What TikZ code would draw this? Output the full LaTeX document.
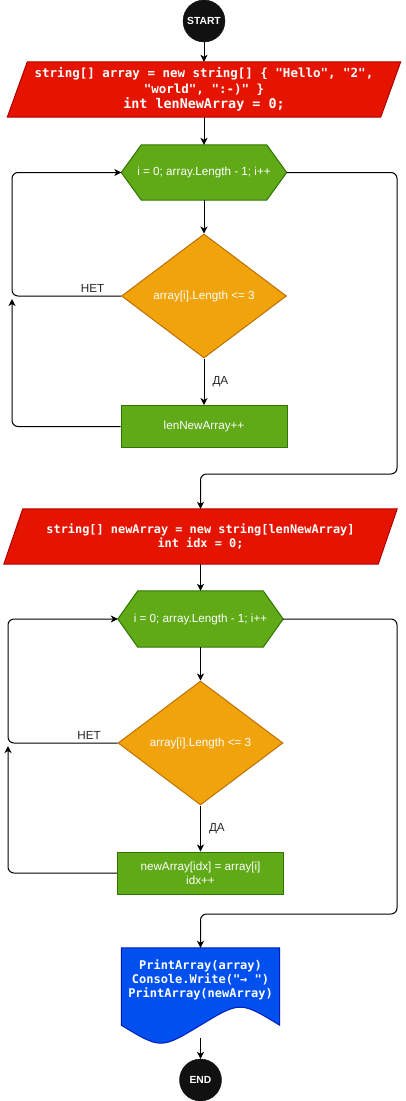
\documentclass[tikz,border=0pt]{standalone}
\usepackage{fontspec}
\setmainfont{Liberation Sans}
\newfontfamily\codefont{DejaVu Sans Mono}
\usetikzlibrary{shapes.geometric,arrows.meta,calc,backgrounds}

\definecolor{redfill}{HTML}{E51400}
\definecolor{redline}{HTML}{B20000}
\definecolor{greenfill}{HTML}{60A917}
\definecolor{greenline}{HTML}{2D7600}
\definecolor{orangefill}{HTML}{F0A30A}
\definecolor{orangeline}{HTML}{BD7000}
\definecolor{bluefill}{HTML}{0050EF}
\definecolor{blueline}{HTML}{001DBC}
\definecolor{termfill}{HTML}{111111}

\tikzset{
  terminal/.style={circle, fill=termfill, draw=termfill, minimum size=42, inner sep=0,
    text=white, font=\bfseries\fontsize{10.3}{12}\selectfont},
  iobox/.style={rectangle, minimum width=393, minimum height=55, inner sep=0,
    text=white, align=center, font=\codefont\bfseries\fontsize{12.5}{15.5}\selectfont},
  loophead/.style={rectangle, minimum width=165, minimum height=55, inner sep=0,
    text=white, font=\fontsize{11.7}{14}\selectfont},
  decision/.style={diamond, draw=orangeline, fill=orangefill, line width=1,
    minimum width=165, minimum height=124, inner sep=0,
    text=white, font=\fontsize{11.7}{14}\selectfont},
  action/.style={rectangle, draw=greenline, fill=greenfill, line width=1,
    minimum width=166, minimum height=42, inner sep=0,
    text=white, align=center, font=\fontsize{11.7}{14}\selectfont},
  docbox/.style={rectangle, minimum width=158, minimum height=64, inner sep=0,
    text=white, align=center, font=\codefont\bfseries\fontsize{12}{14}\selectfont},
  hexfill/.style={draw=greenline, fill=greenfill, line width=1},
  parafill/.style={draw=redline, fill=redfill, line width=1},
  flow/.style={-{Stealth[length=7pt,width=7pt,inset=2pt]}, line width=1, black},
  loopline/.style={flow, rounded corners=6},
  branch/.style={font=\fontsize{11.7}{14}\selectfont, text=black!85, inner sep=2pt}
}

\begin{document}
\begin{tikzpicture}[x=1pt,y=-1pt]
\useasboundingbox (0,0) rectangle (405,1101);

% ---- first part: count the short strings ----
\node[terminal] (start) at (204,21) {START};
\node[iobox] (p1) at (204,89.5) {string[] array = new string[] \{ "Hello", "2",\\
  "world", ":-)" \}\\
  {\fontsize{13.4}{15.5}\selectfont int lenNewArray = 0;}};
\node[loophead] (h1) at (204,172.5) {i = 0; array.Length - 1; i++};
\node[decision] (d1) at (204,296) {array[i].Length <= 3};
\node[action] (r1) at (204,426.5) {lenNewArray++};
\coordinate (j1) at (12,299);
\coordinate (c1) at (12,172.5);
\coordinate (e1) at (397,474);

% ---- second part: copy the short strings ----
\node[iobox, font=\codefont\bfseries\fontsize{11.9}{14.5}\selectfont] (p2) at (200.5,536.5)
  {string[] newArray = new string[lenNewArray]\\ int idx = 0;};
\node[loophead, minimum height=56] (h2) at (200.5,619) {i = 0; array.Length - 1; i++};
\node[decision] (d2) at (200.5,743) {array[i].Length <= 3};
\node[action] (r2) at (200.5,873) {newArray[idx] = array[i]\\ idx++};
\coordinate (j2) at (8,746);
\coordinate (c2) at (8,619);
\coordinate (e2) at (397,914);

% ---- output and end ----
\node[docbox] (doc) at (200.5,980) {PrintArray(array)\\ Console.Write("→ ")\\ PrintArray(newArray)};
\coordinate (docb) at ($(doc.south)+(0,26)$);
\node[terminal] (end) at (200.5,1080) {END};

% ---- shapes drawn behind the texts ----
\begin{scope}[on background layer]
  \filldraw[parafill] ($(p1.north west)+(20,0)$) -- (p1.north east)
    -- ($(p1.south east)+(-20,0)$) -- (p1.south west) -- cycle;
  \filldraw[parafill] ($(p2.north west)+(19,0)$) -- (p2.north east)
    -- ($(p2.south east)+(-19,0)$) -- (p2.south west) -- cycle;
  \foreach \h in {h1,h2}{
    \filldraw[hexfill] ($(\h.north west)+(20,0)$) -- ($(\h.north east)+(-20,0)$)
      -- (\h.east) -- ($(\h.south east)+(-20,0)$) -- ($(\h.south west)+(20,0)$)
      -- (\h.west) -- cycle;
  }
  \filldraw[draw=blueline, fill=bluefill, line width=1]
    (doc.north west) -- (doc.north east) -- ($(doc.south east)+(0,13)$)
    .. controls ($(doc.south east)+(-39.5,-11)$) .. ($(doc.south)+(0,13)$)
    .. controls ($(doc.south west)+(39.5,37)$) .. ($(doc.south west)+(0,13)$)
    -- cycle;
\end{scope}

% ---- connectors ----
\draw[flow] (start) -- (p1);
\draw[flow] (p1) -- (h1);
\draw[flow] (h1) -- (d1);
\draw[flow] (d1) -- node[branch, right=6pt] {ДА} (r1);
\draw[loopline] (d1.west) -| node[branch, pos=0.13, above=1pt] {НЕТ} (c1) -- (h1.west);
\draw[loopline] (r1.west) -| (j1);
\draw[loopline] (h1.east) -| (e1) -| (p2.north);

\draw[flow] (p2) -- (h2);
\draw[flow] (h2) -- (d2);
\draw[flow] (d2) -- node[branch, right=6pt] {ДА} (r2);
\draw[loopline] (d2.west) -| node[branch, pos=0.13, above=1pt] {НЕТ} (c2) -- (h2.west);
\draw[loopline] (r2.west) -| (j2);
\draw[loopline] (h2.east) -| (e2) -| (doc.north);

\draw[flow] (docb) -- (end);
\end{tikzpicture}
\end{document}
